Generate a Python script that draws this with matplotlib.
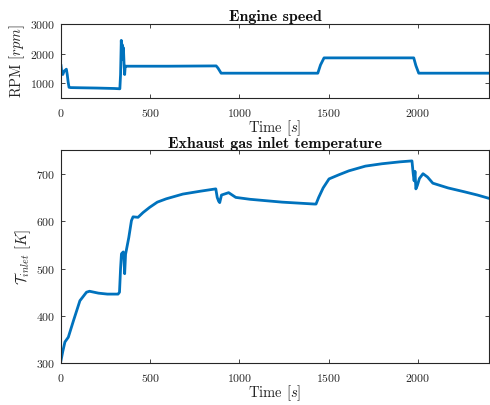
import numpy as np
import matplotlib
matplotlib.use("Agg")
import matplotlib.pyplot as plt

# Engine speed key points (time [s], rpm)
rpm_time = [0, 5, 10, 18, 25, 30, 35, 40, 45, 55, 100, 200, 300, 330, 334, 338, 341, 344, 347, 350, 354, 357, 360, 365, 400,
            600, 870, 880, 898, 1000, 1200, 1440, 1455, 1475, 1600, 1800, 1978, 1990, 2006, 2200, 2400]
rpm_vals = [1600, 1350, 1300, 1420, 1450, 1480, 1300, 1050, 870, 860, 855, 845, 830, 820, 1300, 2450, 2000, 2300, 1800, 2200, 1600, 1300, 1580, 1580, 1580,
            1580, 1590, 1520, 1345, 1345, 1345, 1345, 1620, 1860, 1860, 1860, 1860, 1600, 1345, 1345, 1345]

# Exhaust gas inlet temperature key points (time [s], K)
temp_time = [0, 10, 22, 41, 70, 106, 143, 160, 210, 260, 320, 328, 334, 339, 349, 353, 357, 362, 380, 395, 404, 432, 460, 497, 540, 590, 683, 780, 868,
             876, 884, 890, 900, 940, 980, 1060, 1150, 1240, 1330, 1420, 1430, 1445, 1470, 1503, 1560, 1614, 1707, 1800, 1900, 1968,
             1975, 1980, 1985, 1990, 1998, 2010, 2030, 2055, 2085, 2170, 2260, 2335, 2400]
temp_vals = [306, 325, 345, 355, 390, 432, 450, 452, 448, 446, 446, 450, 500, 531, 535, 520, 489, 530, 565, 601, 609, 608, 618, 629, 640, 647, 657, 663, 668,
             650, 642, 639, 655, 660, 650, 646, 643, 640, 638, 636, 636, 650, 670, 689, 698, 706, 716, 721, 725, 727,
             700, 685, 705, 668, 675, 690, 700, 693, 680, 670, 662, 655, 648]

plt.rcParams["font.family"] = "serif"
plt.rcParams["font.serif"] = ["cmr10"]
plt.rcParams["mathtext.fontset"] = "cm"
plt.rcParams["axes.formatter.use_mathtext"] = True
plt.rcParams["axes.unicode_minus"] = False

line_color = "#0072BD"
ax_color = "#262626"

fig = plt.figure(figsize=(4.9, 4.05), dpi=100)
ax1 = fig.add_axes([61 / 490, 1 - 98.3 / 405, 428 / 490, 74.3 / 405])
ax2 = fig.add_axes([61 / 490, 1 - 363.3 / 405, 428 / 490, 213.3 / 405])

ax1.plot(rpm_time, rpm_vals, color=line_color, lw=2.0)
ax2.plot(temp_time, temp_vals, color=line_color, lw=2.0)

ax1.set_xlim(0, 2400)
ax1.set_ylim(500, 3000)
ax1.set_yticks([1000, 2000, 3000])
ax2.set_xlim(0, 2400)
ax2.set_ylim(300, 750)
ax2.set_yticks([300, 400, 500, 600, 700])

for ax in (ax1, ax2):
    ax.set_xticks([0, 500, 1000, 1500, 2000])
    ax.tick_params(direction="in", length=3, width=0.6, top=True, right=True,
                   labelsize=8.5, colors=ax_color, pad=4)
    ax.tick_params(axis="x", pad=6)
    for s in ax.spines.values():
        s.set_color(ax_color)
        s.set_linewidth(0.8)
    ax.set_xlabel("Time $[s]$", fontsize=10.5, color=ax_color, labelpad=0)

ax1.set_ylabel("RPM $[rpm]$", fontsize=10.5, color=ax_color, labelpad=2)
ax2.set_ylabel(r"$\mathcal{T}_{inlet}$ $[K]$", fontsize=10.5, color=ax_color, labelpad=2)
ax1.set_title("Engine speed", family="cmb10", fontsize=11.5, pad=2, color="#111111")
ax2.set_title("Exhaust gas inlet temperature", family="cmb10", fontsize=11.5, pad=1.5, color="#111111")

fig.savefig("out.png", dpi=100)
